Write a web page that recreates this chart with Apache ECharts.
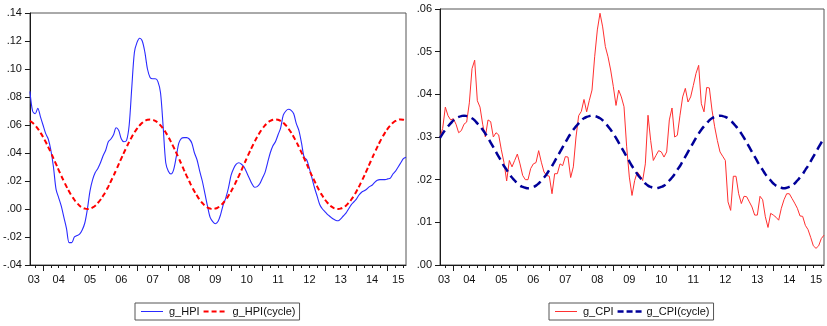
<!DOCTYPE html>
<html><head><meta charset="utf-8">
<script src="https://cdn.jsdelivr.net/npm/echarts@6/dist/echarts.min.js"></script>
<style>html,body{margin:0;padding:0;background:#fff}#c{width:827px;height:326px}</style>
</head><body><div id="c"></div>
<script>
// Monthly observations 2003M08 .. 2015M08 (month index counted from 2003M01 = 0)
const firstMonthIndex = 7;
const yearLabels = ['03','04','05','06','07','08','09','10','11','12','13','14','15'];
const yearLabelPos = [8.5,18,30,42,54,66,78,90,102,114,126,138,148];

const gHPI = [
0.084,0.070,0.068,0.072,0.066,0.060,0.054,0.050,0.042,0.030,0.014,0.008,0.002,-0.006,-0.014,-0.024,-0.024,-0.020,-0.019,-0.018,
-0.015,-0.010,0.000,0.013,0.021,0.026,0.029,0.033,0.038,0.042,0.048,0.050,0.053,0.058,0.056,0.050,0.048,0.049,0.060,0.087,
0.112,0.119,0.122,0.120,0.112,0.100,0.094,0.093,0.093,0.091,0.083,0.059,0.033,0.027,0.025,0.028,0.037,0.047,0.0505,0.051,
0.051,0.050,0.047,0.040,0.035,0.027,0.020,0.011,0.002,-0.006,-0.009,-0.0105,-0.009,-0.004,0.003,0.008,0.015,0.024,0.029,0.032,
0.033,0.032,0.030,0.026,0.022,0.018,0.0155,0.016,0.018,0.022,0.026,0.033,0.040,0.045,0.048,0.053,0.058,0.067,0.070,0.0712,
0.0705,0.068,0.061,0.056,0.047,0.037,0.035,0.029,0.022,0.015,0.009,0.003,0.000,-0.002,-0.004,-0.0055,-0.007,-0.008,-0.0084,-0.007,
-0.005,-0.003,0.000,0.003,0.005,0.007,0.010,0.012,0.013,0.0143,0.016,0.017,0.019,0.0205,0.021,0.021,0.021,0.0215,0.022,0.025,
0.027,0.030,0.033,0.036,0.037];

const gHPIcycle = [
0.0629,0.0616,0.0597,0.0574,0.0546,0.0515,0.048,0.0442,0.0403,0.0362,0.032,0.0278,0.0237,0.0198,0.016,0.0125,0.0094,0.0066,0.0043,0.0024,
0.0011,0.0003,0.0,0.0003,0.0011,0.0024,0.0043,0.0066,0.0094,0.0125,0.016,0.0198,0.0237,0.0278,0.032,0.0362,0.0403,0.0442,0.048,0.0515,
0.0546,0.0574,0.0597,0.0616,0.0629,0.0637,
0.064,0.0637,0.0629,0.0616,0.0597,0.0574,0.0546,0.0515,0.048,0.0442,0.0403,0.0362,0.032,0.0278,0.0237,0.0198,0.016,0.0125,0.0094,0.0066,
0.0043,0.0024,0.0011,0.0003,0.0,0.0003,0.0011,0.0024,0.0043,0.0066,0.0094,0.0125,0.016,0.0198,0.0237,0.0278,0.032,0.0362,0.0403,0.0442,
0.048,0.0515,0.0546,0.0574,0.0597,0.0616,0.0629,0.0637,
0.064,0.0637,0.0629,0.0616,0.0597,0.0574,0.0546,0.0515,0.048,0.0442,0.0403,0.0362,0.032,0.0278,0.0237,0.0198,0.016,0.0125,0.0094,0.0066,
0.0043,0.0024,0.0011,0.0003,0.0,0.0003,0.0011,0.0024,0.0043,0.0066,0.0094,0.0125,0.016,0.0198,0.0237,0.0278,0.032,0.0362,0.0403,0.0442,
0.048,0.0515,0.0546,0.0574,0.0597,0.0616,0.0629,0.0637,
0.064,0.0637,0.0629];

const gCPI = [
0.030,0.032,0.037,0.035,0.034,0.0343,0.033,0.031,0.0315,0.033,0.0335,0.038,0.046,0.048,0.0385,0.037,0.033,0.030,0.034,0.0336,
0.030,0.031,0.0305,0.027,0.024,0.0197,0.0245,0.023,0.0245,0.026,0.0237,0.021,0.020,0.020,0.0226,0.0237,0.024,0.0268,0.0241,0.0218,
0.021,0.0208,0.0167,0.0214,0.0214,0.0237,0.0233,0.0254,0.0253,0.0205,0.023,0.030,0.035,0.036,0.0388,0.0359,0.0386,0.041,0.0488,0.0551,
0.059,0.0558,0.0512,0.0488,0.0457,0.0418,0.0374,0.041,0.0394,0.0371,0.0277,0.0206,0.0163,0.0198,0.0218,0.021,0.0198,0.0237,0.0351,0.0292,
0.0245,0.0257,0.0268,0.0265,0.0253,0.0265,0.034,0.0368,0.030,0.0304,0.0351,0.0394,0.0414,0.0382,0.0394,0.0421,0.0449,0.0468,0.0378,0.0359,
0.0416,0.0415,0.0363,0.0324,0.0292,0.0265,0.0255,0.0245,0.0148,0.0128,0.0208,0.0208,0.0167,0.0144,0.0161,0.016,0.0148,0.0136,0.0117,0.0117,
0.0161,0.0153,0.0113,0.0088,0.0121,0.0117,0.0112,0.0105,0.0133,0.0153,0.0167,0.0167,0.0156,0.0145,0.0133,0.0115,0.0114,0.0093,0.0083,0.0065,
0.0045,0.0039,0.0045,0.0062,0.007];

const gCPIcycle = [
0.0298,0.0308,0.0317,0.0325,0.0332,0.0339,0.0344,0.0347,0.0349,
0.035,0.0349,0.0347,0.0344,0.0339,0.0332,0.0325,0.0317,0.0308,0.0298,0.0287,0.0276,0.0265,0.0254,0.0243,0.0232,0.0223,0.0213,0.0205,0.0198,
0.0191,0.0186,0.0183,0.0181,0.018,0.0181,0.0183,0.0186,0.0191,0.0198,0.0205,0.0213,0.0223,0.0232,0.0243,0.0254,0.0265,0.0276,0.0287,0.0298,
0.0308,0.0317,0.0325,0.0332,0.0339,0.0344,0.0347,0.0349,
0.035,0.0349,0.0347,0.0344,0.0339,0.0332,0.0325,0.0317,0.0308,0.0298,0.0287,0.0276,0.0265,0.0254,0.0243,0.0232,0.0223,0.0213,0.0205,0.0198,
0.0191,0.0186,0.0183,0.0181,0.018,0.0181,0.0183,0.0186,0.0191,0.0198,0.0205,0.0213,0.0223,0.0232,0.0243,0.0254,0.0265,0.0276,0.0287,0.0298,
0.0308,0.0317,0.0325,0.0332,0.0339,0.0344,0.0347,0.0349,
0.035,0.0349,0.0347,0.0344,0.0339,0.0332,0.0325,0.0317,0.0308,0.0298,0.0287,0.0276,0.0265,0.0254,0.0243,0.0232,0.0223,0.0213,0.0205,0.0198,
0.0191,0.0186,0.0183,0.0181,0.018,0.0181,0.0183,0.0186,0.0191,0.0198,0.0205,0.0213,0.0223,0.0232,0.0243,0.0254,0.0265,0.0276,0.0287,0.0298];

const quarterTicks = [9,15,18,21,27,30,33,39,42,45,51,54,57,63,66,69,75,78,81,87,90,93,99,102,105,111,114,117,123,126,129,135,138,141,147,150];
const yearTicks = [12,24,36,48,60,72,84,96,108,120,132,144];

function pairs(arr){ return arr.map((v,i)=>[firstMonthIndex+i, v]); }
const lastIdx = firstMonthIndex + gHPI.length - 1;

const FONT = 'Liberation Sans, Arial, sans-serif';
const AXC = '#1a1a1a';
function yFmt(v){
  if (Math.abs(v) < 1e-9) return '.00';
  const s = Math.abs(v).toFixed(2).replace(/^0/, '');
  return (v < 0 ? '-' : '') + s;
}
function xAxes(grid){
  return [{
    gridIndex: grid, type: 'value', min: firstMonthIndex, max: lastIdx, position: 'bottom',
    axisLine: {show: true, onZero: false, lineStyle: {color: AXC, width: 1}},
    axisTick: {show: true, length: 3, inside: false, customValues: quarterTicks, lineStyle: {color: AXC}},
    axisLabel: {show: true, customValues: yearLabelPos, margin: 9, color: '#111', fontFamily: FONT, fontSize: 11,
      formatter: v => yearLabels[Math.min(12, Math.floor(v/12))]},
    splitLine: {show: false}
  },{
    gridIndex: grid, type: 'value', min: firstMonthIndex, max: lastIdx, position: 'bottom',
    axisLine: {show: false, onZero: false},
    axisTick: {show: true, length: 6, inside: false, customValues: yearTicks, lineStyle: {color: AXC}},
    axisLabel: {show: false}, splitLine: {show: false}
  }];
}
function yAxis(grid, min, max, step){
  return {
    gridIndex: grid, type: 'value', min: min, max: max, interval: step,
    axisLine: {show: true, onZero: false, lineStyle: {color: AXC}},
    axisTick: {show: true, length: 5, lineStyle: {color: AXC}},
    axisLabel: {margin: 8, color: '#111', fontFamily: FONT, fontSize: 11, formatter: yFmt},
    splitLine: {show: false}
  };
}
// legend glyphs: tiny corner specks fix the bounding box (24x10), visible bars in the middle
const BOX = 'M0,0h0.01v0.01h-0.01zM23.99,9.99h0.01v0.01h-0.01z';
const ICON_SOLID = 'path://' + BOX + 'M1,4.5h22v1h-22z';
const ICON_RED_DASH = 'path://' + BOX + 'M0,4h5v2h-5zM8,4h5v2h-5zM16,4h5v2h-5z';
const ICON_NAVY_DASH = 'path://' + BOX + 'M0,3.8h6v2.4h-6zM9,3.8h6v2.4h-6zM18,3.8h6v2.4h-6z';

const chart = echarts.init(document.getElementById('c'), null, {renderer: 'canvas'});
chart.setOption({
  animation: false,
  backgroundColor: '#fff',
  textStyle: {fontFamily: FONT},
  grid: [
    {left: 27, top: 13, width: 379, height: 252, show: true, borderColor: '#555', borderWidth: 1, backgroundColor: 'transparent'},
    {left: 440, top: 9, width: 384, height: 256, show: true, borderColor: '#555', borderWidth: 1, backgroundColor: 'transparent'}
  ],
  xAxis: [...xAxes(0), ...xAxes(1)],
  yAxis: [yAxis(0, -0.04, 0.14, 0.02), yAxis(1, 0, 0.06, 0.01)],
  legend: [
    {data: [{name: 'g_HPI', icon: ICON_SOLID}, {name: 'g_HPI(cycle)', icon: ICON_RED_DASH}],
     left: 135, top: 303, orient: 'horizontal',
     borderColor: '#555', borderWidth: 1, padding: [3, 4, 3, 5], itemGap: 4, itemWidth: 24, itemHeight: 10,
     textStyle: {fontFamily: FONT, fontSize: 11, color: '#111'}},
    {data: [{name: 'g_CPI', icon: ICON_SOLID}, {name: 'g_CPI(cycle)', icon: ICON_NAVY_DASH}],
     left: 549, top: 303, orient: 'horizontal',
     borderColor: '#555', borderWidth: 1, padding: [3, 4, 3, 5], itemGap: 4, itemWidth: 24, itemHeight: 10,
     textStyle: {fontFamily: FONT, fontSize: 11, color: '#111'}}
  ],
  series: [
    {name: 'g_HPI', type: 'line', xAxisIndex: 0, yAxisIndex: 0, data: pairs(gHPI), symbol: 'none', smooth: 0.3,
     lineStyle: {color: '#2a2aff', width: 1.1}, itemStyle: {color: '#2a2aff'}},
    {name: 'g_HPI(cycle)', type: 'line', xAxisIndex: 0, yAxisIndex: 0, data: pairs(gHPIcycle), symbol: 'none', smooth: true,
     lineStyle: {color: '#ff0000', width: 2, type: [5, 3]}, itemStyle: {color: '#ff0000'}},
    {name: 'g_CPI', type: 'line', xAxisIndex: 2, yAxisIndex: 1, data: pairs(gCPI), symbol: 'none',
     lineStyle: {color: '#ff3030', width: 1}, itemStyle: {color: '#ff3030'}},
    {name: 'g_CPI(cycle)', type: 'line', xAxisIndex: 2, yAxisIndex: 1, data: pairs(gCPIcycle), symbol: 'none', smooth: true,
     lineStyle: {color: '#000099', width: 2.5, type: [9, 5]}, itemStyle: {color: '#000099'}}
  ]
});
</script></body></html>
